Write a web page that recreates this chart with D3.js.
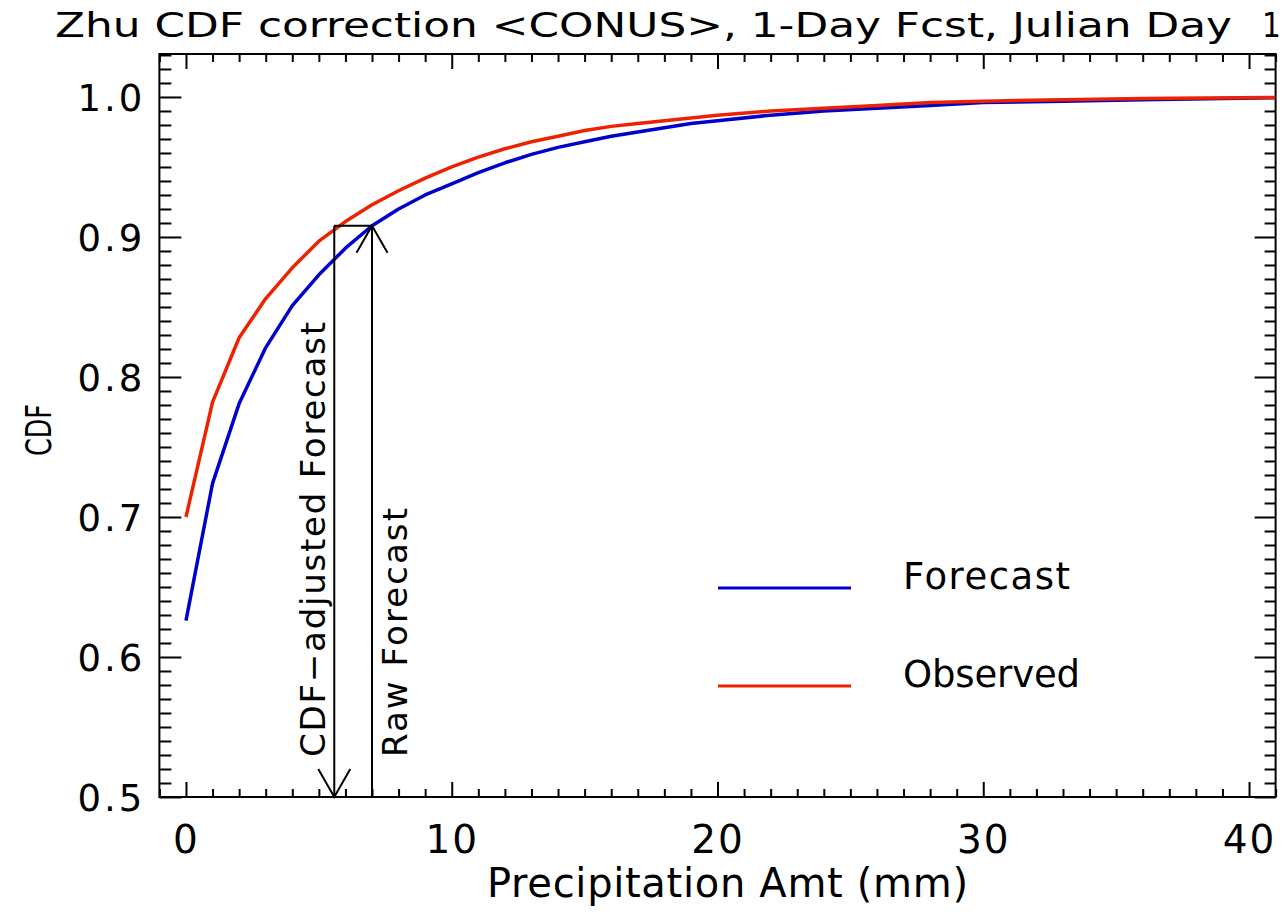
<!DOCTYPE html>
<html>
<head>
<meta charset="utf-8">
<script src="https://cdn.jsdelivr.net/npm/d3@7"></script>
<style>
  html, body { margin: 0; padding: 0; background: #fff; }
  svg { display: block; }
  text { fill: #000; }
</style>
</head>
<body>
<svg id="chart" width="1284" height="916"></svg>
<script>
// ---------------- data ----------------
const precip      = [0, 1, 2, 3, 4, 5, 6, 7, 8, 9, 10, 11, 12, 13, 14, 15, 16, 17, 18, 19, 20, 22, 24, 26, 28, 30, 33, 36, 41];
const observedCDF = [0.700, 0.782, 0.828, 0.856, 0.878, 0.897, 0.911, 0.923, 0.933, 0.942, 0.950, 0.957, 0.963, 0.968, 0.972, 0.976, 0.979, 0.981, 0.983, 0.985, 0.987, 0.990, 0.992, 0.994, 0.996, 0.997, 0.998, 0.999, 0.9996];
const forecastCDF = [0.626, 0.724, 0.781, 0.821, 0.851, 0.873, 0.892, 0.908, 0.920, 0.930, 0.938, 0.946, 0.953, 0.959, 0.964, 0.968, 0.972, 0.975, 0.978, 0.981, 0.983, 0.987, 0.990, 0.992, 0.994, 0.996, 0.997, 0.998, 0.9995];
const xTickValues = [0, 10, 20, 30, 40];
const yTickValues = [0.5, 0.6, 0.7, 0.8, 0.9, 1.0];
const rawForecastX = 7.0;       // raw forecast amount (mm)
const adjustedForecastX = 5.58; // CDF-adjusted amount (mm)
const matchedCDF = 0.908;       // CDF level of the raw forecast
const titleText = "Zhu CDF correction <CONUS>, 1-Day Fcst, Julian Day";
const titleTail = "1";
const xTitle = "Precipitation Amt (mm)";
const yTitle = "CDF";
const legendItems = [
  { label: "Forecast", color: "#0000cc" },
  { label: "Observed", color: "#ee2200" }
];

// ---------------- layout ----------------
const svg = d3.select("#chart");
const L = 159.4, R = 1275.6, T = 54, B = 797;
const x = d3.scaleLinear().domain([-1, 41]).range([L, R]);
const y = d3.scaleLinear().domain([0.5, 1.0307]).range([B, T]);
const FONT = "'DejaVu Sans', 'Noto Sans', sans-serif";
const COND = "'DejaVu Sans Condensed', 'DejaVu Sans', sans-serif";

svg.append("defs").append("clipPath").attr("id", "plotclip")
  .append("rect").attr("x", L).attr("y", T).attr("width", R - L).attr("height", B - T);

// ---------------- axes (ticks inward, on all four sides) ----------------
const xMinor = d3.range(-1, 42, 1).filter(v => !xTickValues.includes(v));
const yMinor = d3.range(50, 104, 1).map(v => v / 100).filter(v => !yTickValues.some(t => Math.abs(t - v) < 1e-9));

function tickAxis(axisFn, scale, values, size, translate) {
  const g = svg.append("g").attr("transform", translate)
    .call(axisFn(scale).tickValues(values).tickSize(size).tickFormat(""));
  g.select(".domain").remove();
  g.selectAll(".tick line").attr("stroke", "#000").attr("stroke-width", 2);
  return g;
}
tickAxis(d3.axisBottom, x, xTickValues, -15, `translate(0,${B})`);
tickAxis(d3.axisBottom, x, xMinor, -8, `translate(0,${B})`);
tickAxis(d3.axisTop, x, xTickValues, -15, `translate(0,${T})`);
tickAxis(d3.axisTop, x, xMinor, -8, `translate(0,${T})`);
tickAxis(d3.axisLeft, y, yTickValues, -22, `translate(${L},0)`);
tickAxis(d3.axisLeft, y, yMinor, -12, `translate(${L},0)`);
tickAxis(d3.axisRight, y, yTickValues, -21, `translate(${R},0)`);
tickAxis(d3.axisRight, y, yMinor, -11, `translate(${R},0)`);

svg.append("rect").attr("x", L).attr("y", T).attr("width", R - L).attr("height", B - T)
  .attr("fill", "none").attr("stroke", "#000").attr("stroke-width", 2);

// tick labels
const xl = svg.append("g").attr("transform", `translate(0,${B})`)
  .call(d3.axisBottom(x).tickValues(xTickValues).tickSize(0).tickPadding(0).tickFormat(d3.format("d")));
xl.select(".domain").remove();
xl.selectAll("text").attr("y", 56).attr("dy", null)
  .attr("font-family", FONT).attr("font-size", 39).attr("letter-spacing", 2).attr("fill", "#000");

const yl = svg.append("g").attr("transform", `translate(${L},0)`)
  .call(d3.axisLeft(y).tickValues(yTickValues).tickSize(0).tickPadding(0).tickFormat(d3.format(".1f")));
yl.select(".domain").remove();
yl.selectAll("text").attr("x", -14).attr("dy", "0.36em")
  .attr("font-family", FONT).attr("font-size", 37).attr("letter-spacing", 3).attr("fill", "#000");

// axis titles
svg.append("text").attr("x", 487).attr("y", 897)
  .attr("font-family", FONT).attr("font-size", 40)
  .attr("textLength", 481).attr("lengthAdjust", "spacing")
  .text(xTitle);

svg.append("text").attr("transform", "translate(51,456) rotate(-90)")
  .attr("font-family", COND).attr("font-size", 36)
  .attr("textLength", 52).attr("lengthAdjust", "spacingAndGlyphs")
  .text(yTitle);

// title
svg.append("text").attr("x", 55).attr("y", 37)
  .attr("font-family", COND).attr("font-size", 33)
  .attr("textLength", 1177).attr("lengthAdjust", "spacingAndGlyphs")
  .text(titleText);
svg.append("text").attr("x", 1262).attr("y", 37)
  .attr("font-family", COND).attr("font-size", 33)
  .text(titleTail);

// ---------------- curves ----------------
const line = d3.line().x(d => x(d[0])).y(d => y(d[1])).curve(d3.curveLinear);
const plot = svg.append("g").attr("clip-path", "url(#plotclip)");
plot.append("path").datum(precip.map((p, i) => [p, forecastCDF[i]]))
  .attr("d", line).attr("fill", "none").attr("stroke", legendItems[0].color).attr("stroke-width", 3.5)
  .attr("stroke-linejoin", "round");
plot.append("path").datum(precip.map((p, i) => [p, observedCDF[i]]))
  .attr("d", line).attr("fill", "none").attr("stroke", legendItems[1].color).attr("stroke-width", 3.5)
  .attr("stroke-linejoin", "round");

// ---------------- annotation arrows ----------------
const ann = svg.append("g").attr("stroke", "#000").attr("stroke-width", 2).attr("fill", "none");
ann.append("line").attr("x1", x(rawForecastX)).attr("x2", x(rawForecastX)).attr("y1", y(0.5)).attr("y2", y(matchedCDF));
ann.append("path").attr("d",
  `M${x(rawForecastX) - 15.5},${y(matchedCDF) + 27} L${x(rawForecastX)},${y(matchedCDF)} L${x(rawForecastX) + 15.5},${y(matchedCDF) + 27}`);
ann.append("line").attr("x1", x(adjustedForecastX)).attr("x2", x(rawForecastX)).attr("y1", y(matchedCDF)).attr("y2", y(matchedCDF));
ann.append("line").attr("x1", x(adjustedForecastX)).attr("x2", x(adjustedForecastX)).attr("y1", y(matchedCDF)).attr("y2", y(0.5));
ann.append("path").attr("d",
  `M${x(adjustedForecastX) - 16},${y(0.5) - 28} L${x(adjustedForecastX)},${y(0.5)} L${x(adjustedForecastX) + 16},${y(0.5) - 28}`);

svg.append("text").attr("transform", `translate(${x(adjustedForecastX) - 9},757) rotate(-90)`)
  .attr("font-family", FONT).attr("font-size", 34)
  .attr("textLength", 435).attr("lengthAdjust", "spacing")
  .text("CDF\u2212adjusted Forecast");
svg.append("text").attr("transform", `translate(${x(rawForecastX) + 35},757) rotate(-90)`)
  .attr("font-family", FONT).attr("font-size", 34)
  .attr("textLength", 249).attr("lengthAdjust", "spacing")
  .text("Raw Forecast");

// ---------------- legend ----------------
const lg = svg.append("g");
legendItems.forEach((d, i) => {
  const yy = 588 + i * 98;
  lg.append("line").attr("x1", 718).attr("x2", 851).attr("y1", yy).attr("y2", yy)
    .attr("stroke", d.color).attr("stroke-width", 3);
  lg.append("text").attr("x", 903).attr("y", yy + 0.5)
    .attr("font-family", FONT).attr("font-size", 37)
    .attr("textLength", i === 0 ? 167 : 177).attr("lengthAdjust", "spacing")
    .text(d.label);
});
</script>
</body>
</html>
